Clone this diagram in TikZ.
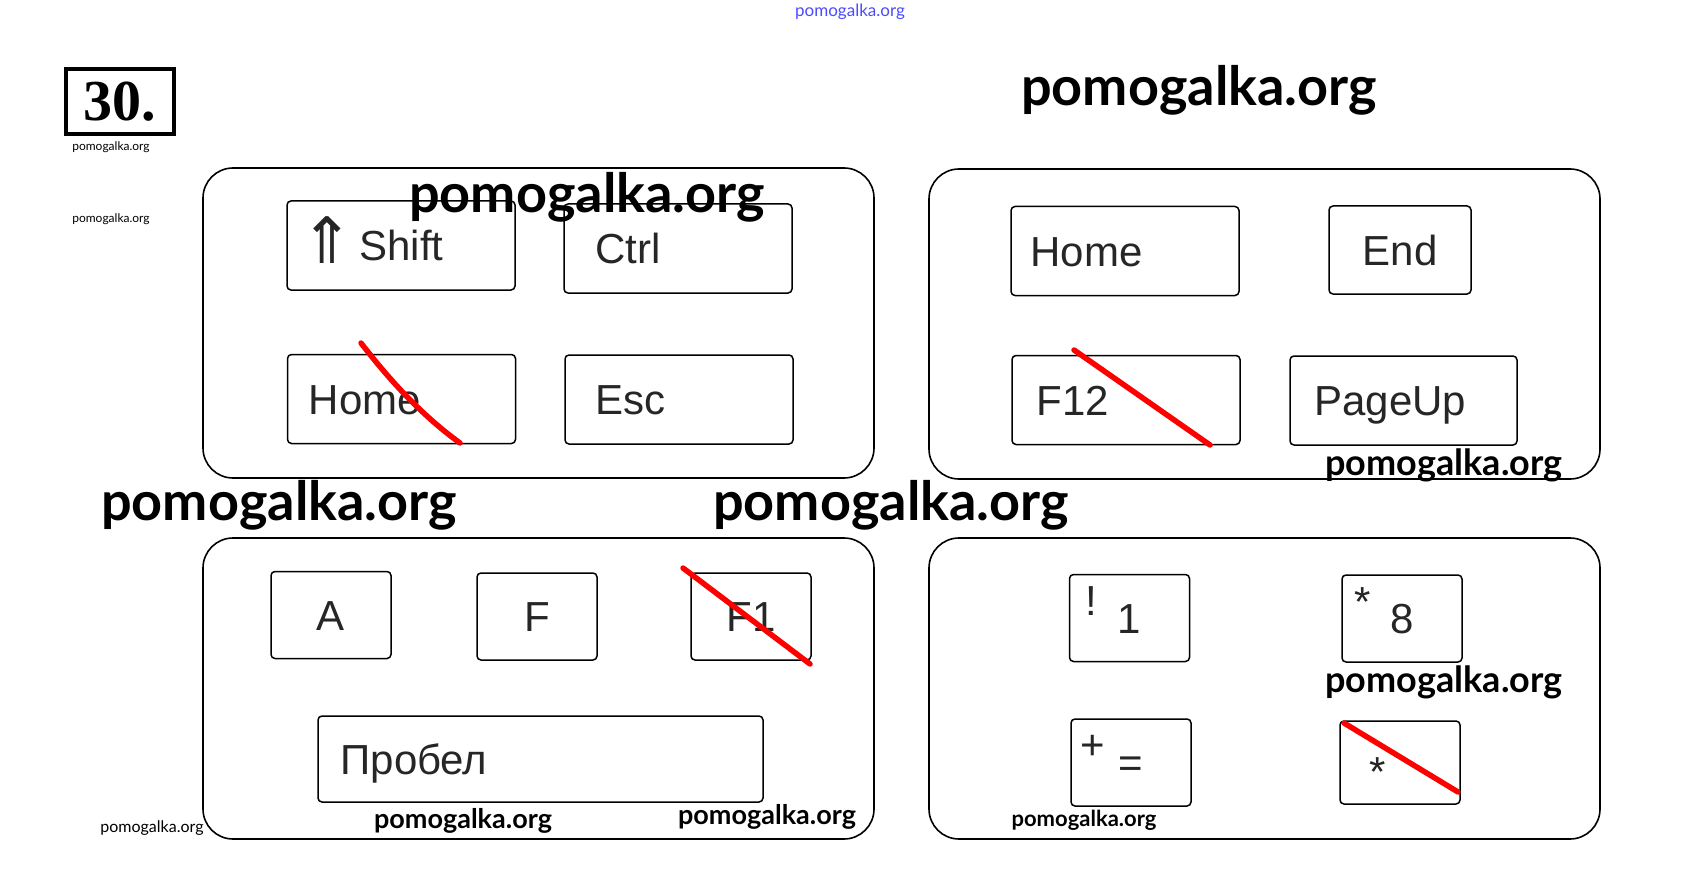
\documentclass[tikz,border=0pt]{standalone}
\usepackage{fontspec}
\setmainfont{Liberation Sans}
\newfontfamily\wmfont{Lato}
\newfontfamily\numfont{Liberation Serif}
\newfontfamily\symfont{DejaVu Sans}
\usetikzlibrary{positioning,calc}

\begin{document}
\begin{tikzpicture}[
    x=1pt, y=-1pt,
    panel/.style={draw, line width=1.6pt, rounded corners=30pt, minimum width=671pt},
    keycap/.style={draw, line width=1.5pt, rounded corners=4pt, inner sep=0pt, text=black!85,
        font=\fontsize{42}{44}\selectfont, text height=30pt, text depth=0pt},
    widekey/.style={keycap, minimum width=228pt, minimum height=89pt},
    sqkey/.style={keycap, minimum width=120pt, minimum height=87pt},
    keytext/.style={inner sep=0pt, text=black!85, font=\fontsize{42}{44}\selectfont,
        text height=30pt, text depth=0pt},
    cross/.style={draw=red, line width=5.5pt, line cap=round},
    wm/.style={inner sep=0pt, font=\wmfont\bfseries\fontsize{#1}{#1}\selectfont},
    wmlight/.style={inner sep=0pt, font=\wmfont\fontsize{#1}{#1}\selectfont},
]
    \fill[white] (0,0) rectangle (1697,896);
    \useasboundingbox (0,0) rectangle (1697,896);

    % task number
    \node[draw, line width=4.5pt, minimum width=108pt, minimum height=65pt, inner sep=0pt,
        font=\numfont\bfseries\fontsize{58}{60}\selectfont] (num) at (120,101.5) {30.};

    % panels
    \node[panel, minimum height=310pt] (pa) at (538.5,323) {};
    \node[panel, minimum height=310pt] (pb) at (1264.5,324) {};
    \node[panel, minimum height=301pt] (pc) at (538.5,688.5) {};
    \node[panel, minimum height=301pt] (pd) at (1264.5,688.5) {};

    % panel a
    \node[widekey] (shift) at (401,245.5) {};
    \node[keytext, right=14pt of shift.west, yshift=-3pt] (shiftarr) {\symfont\fontsize{64}{64}\selectfont ⇑};
    \node[keytext, right=73pt of shift.west] (shifttxt) {Shift};
    \node[widekey] (ctrl) at (678,248.5) {};
    \node[keytext, right=32pt of ctrl.west] (ctrltxt) {Ctrl};
    \node[widekey] (homea) at (401.5,399) {};
    \node[keytext, right=22pt of homea.west] (homeatxt) {Home};
    \node[widekey] (esc) at (679,399.5) {};
    \node[keytext, right=31pt of esc.west] (esctxt) {Esc};

    % panel b
    \node[widekey] (homeb) at (1125,251) {};
    \node[keytext, right=20pt of homeb.west] (homebtxt) {Home};
    \node[keycap, minimum width=142pt, minimum height=88pt] (endk) at (1400,250) {End};
    \node[widekey] (ftwelve) at (1126,400) {};
    \node[keytext, right=25pt of ftwelve.west] (ftwelvetxt) {F12};
    \node[widekey, minimum width=227pt] (pgup) at (1403.5,400.5) {};
    \node[keytext, right=25pt of pgup.west] (pguptxt) {PageUp};

    % panel c
    \node[sqkey] (ka) at (331,615) {A};
    \node[sqkey] (kf) at (537,616.5) {F};
    \node[sqkey] (kfone) at (751,616.5) {F1};
    \node[keycap, minimum width=445pt, minimum height=86pt] (space) at (540.5,759) {};
    \node[keytext, right=23pt of space.west] (spacetxt) {Пробел};

    % panel d
    \node[sqkey] (kone) at (1129.5,618) {1};
    \node[keytext] (excl) at ($(kone.center)+(-38.5,-18)$) {!};
    \node[sqkey] (keight) at (1402,618.5) {8};
    \node[keytext] (asta) at ($(keight.center)+(-39,-17.5)$) {*};
    \node[sqkey] (keq) at (1131,762.5) {=};
    \node[keytext] (plus) at ($(keq.center)+(-38,-18.5)$) {+};
    \node[sqkey, minimum height=83pt] (kast) at (1400,762.5) {};
    \node[keytext] (astb) at ($(kast.center)+(-22,8.5)$) {*};

    % red strike marks
    \draw[cross] (361,343) .. controls (388,378) and (420,414) .. (460,443);
    \draw[cross] (1074,350) -- (1210,445);
    \draw[cross] (683,568) -- (810,664);
    \draw[cross] (1344,723) -- (1458,792);

    % watermarks
    \node[wm=54] (wma) at (587,197) {pomogalka.org};
    \node[wm=54] (wmb) at (279,505) {pomogalka.org};
    \node[wm=54] (wmc) at (891,505) {pomogalka.org};
    \node[wm=54] (wmd) at (1199,90) {pomogalka.org};
    \node[wm=36] (wme) at (1444,465) {pomogalka.org};
    \node[wm=36] (wmf) at (1444,682) {pomogalka.org};
    \node[wm=27] (wmg) at (463,821) {pomogalka.org};
    \node[wm=27] (wmh) at (767,817) {pomogalka.org};
    \node[wm=22] (wmi) at (1084,820) {pomogalka.org};
    \node[wmlight=16] (wmj) at (152,828) {pomogalka.org};
    \node[wmlight=12] (wmk) at (111,147) {pomogalka.org};
    \node[wmlight=12] (wml) at (111,219) {pomogalka.org};
    \node[wmlight=17, text=blue!70] (wmm) at (850,12) {pomogalka.org};
\end{tikzpicture}
\end{document}
